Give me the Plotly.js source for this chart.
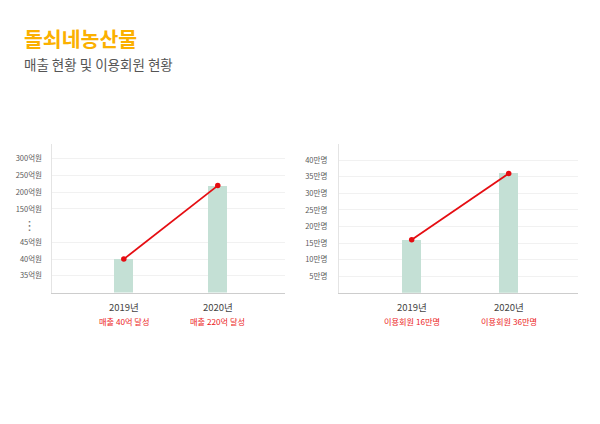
<!DOCTYPE html>
<html><head><meta charset="utf-8">
<script src="https://cdn.plot.ly/plotly-3.0.1.min.js"></script>
<style>html,body{margin:0;padding:0;background:#fff}#chart{width:600px;height:424px}</style>
</head><body><div id="chart"></div>
<script>
// ---- data ----
const years = ['2019년', '2020년'];
const salesValues = [40, 220];               // 억원
const salesNotes = ['매출 40억 달성', '매출 220억 달성'];
const salesTickValues = [35, 40, 45, 150, 200, 250, 300];
const salesTickLabels = ['35억원', '40억원', '45억원', '150억원', '200억원', '250억원', '300억원'];
const memberValues = [16, 36];               // 만명
const memberNotes = ['이용회원 16만명', '이용회원 36만명'];
const memberTickValues = [5, 10, 15, 20, 25, 30, 35, 40];
const memberTickLabels = ['5만명', '10만명', '15만명', '20만명', '25만명', '30만명', '35만명', '40만명'];
const titleText = '돌쇠네농산물';
const subtitleText = '매출 현황 및 이용회원 현황';

// broken (non-linear) sales axis: 35~45 in 5억 steps, a gap, then 150~300 in 50억 steps
function salesPos(v) {
  if (v <= 45) return 1 + (v - 35) / 5;
  return 5 + (v - 150) / 50;
}

const FONT = '"Noto Sans CJK KR", "Noto Sans", sans-serif';
const BAR = '#c4e0d5';
const RED = '#e50d12';
const H = 424, W = 600;
const py = p => 1 - p / H;

const traces = [
  { type: 'bar', x: years, y: salesValues.map(salesPos), xaxis: 'x', yaxis: 'y',
    width: 0.2, marker: { color: BAR }, hoverinfo: 'skip' },
  { type: 'scatter', mode: 'lines+markers', x: years, y: salesValues.map(salesPos), xaxis: 'x', yaxis: 'y',
    line: { color: RED, width: 1.8 }, marker: { color: RED, size: 5.5 } },
  { type: 'bar', x: years, y: memberValues, xaxis: 'x2', yaxis: 'y2',
    width: 0.2, marker: { color: BAR }, hoverinfo: 'skip' },
  { type: 'scatter', mode: 'lines+markers', x: years, y: memberValues, xaxis: 'x2', yaxis: 'y2',
    line: { color: RED, width: 1.8 }, marker: { color: RED, size: 5.5 } }
];

const tickFont = { family: FONT, size: 7.5, color: '#5a5a5a' };
const yCommon = {
  showline: true, linecolor: '#e4e4e4', linewidth: 1.5,
  showgrid: true, gridcolor: '#f1f1f1', gridwidth: 1,
  zeroline: false, ticks: '', tickfont: tickFont, fixedrange: true
};
const xCommon = {
  type: 'category', showline: true, linecolor: '#cdcdcd', linewidth: 1.5,
  showgrid: false, zeroline: false, showticklabels: false, ticks: '', fixedrange: true
};

const layout = {
  width: W, height: H,
  margin: { l: 0, r: 0, t: 0, b: 0 },
  paper_bgcolor: '#fff', plot_bgcolor: '#fff',
  showlegend: false,
  bargap: 0,
  xaxis: Object.assign({}, xCommon, { domain: [52 / W, 284.5 / W], range: [-0.764, 1.71], anchor: 'y' }),
  yaxis: Object.assign({}, yCommon, { domain: [py(292.5), py(144)], range: [0, 8.89], anchor: 'x',
    tickvals: salesTickValues.map(salesPos), ticktext: salesTickLabels, ticklabelstandoff: 7 }),
  xaxis2: Object.assign({}, xCommon, { domain: [339.3 / W, 577.7 / W], range: [-0.746, 1.711], anchor: 'y2' }),
  yaxis2: Object.assign({}, yCommon, { domain: [py(292.7), py(144)], range: [0, 44.9], anchor: 'x2',
    tickvals: memberTickValues, ticktext: memberTickLabels, ticklabelstandoff: 9 }),
  annotations: []
};

// titles
layout.annotations.push({ xref: 'paper', yref: 'paper', x: 22 / W, y: py(38), xanchor: 'left', yanchor: 'middle',
  text: '<b>' + titleText + '</b>', showarrow: false, font: { family: FONT, size: 20.5, color: '#fbb000' } });
layout.annotations.push({ xref: 'paper', yref: 'paper', x: 22 / W, y: py(64), xanchor: 'left', yanchor: 'middle',
  text: subtitleText, showarrow: false, font: { family: FONT, size: 13.5, color: '#555' } });

// broken-axis marker
layout.annotations.push({ xref: 'paper', yref: 'y', x: 29.5 / W, y: 4, xanchor: 'center', yanchor: 'middle',
  text: '⋮', showarrow: false, font: { family: 'DejaVu Sans', size: 13, color: '#777' } });

// category labels
function addCatLabels(xref, notes) {
  years.forEach((yr, i) => {
    layout.annotations.push({ xref: xref, yref: 'paper', x: yr, y: py(306.5), xanchor: 'center', yanchor: 'middle',
      text: yr, showarrow: false, font: { family: FONT, size: 9.5, color: '#444' } });
    layout.annotations.push({ xref: xref, yref: 'paper', x: yr, y: py(321), xanchor: 'center', yanchor: 'middle',
      text: notes[i], showarrow: false, font: { family: FONT, size: 8.2, color: '#ec1c24' } });
  });
}
addCatLabels('x', salesNotes);
addCatLabels('x2', memberNotes);

Plotly.newPlot('chart', traces, layout, { displayModeBar: false, staticPlot: true });
</script>
</body></html>
